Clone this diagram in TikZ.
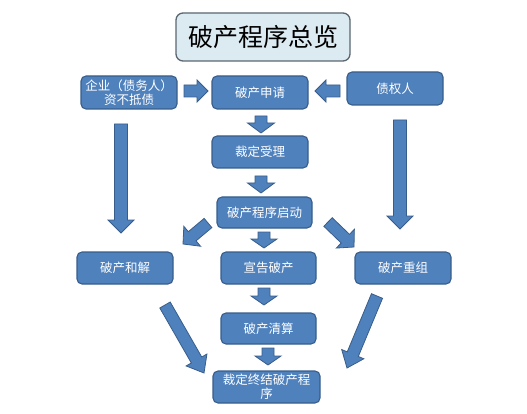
\documentclass[tikz,border=0pt]{standalone}
\usepackage{fontspec}
\newfontfamily\cjk{Noto Sans CJK SC}
\usetikzlibrary{calc}
\definecolor{boxblue}{HTML}{4F81BD}
\definecolor{boxline}{HTML}{385D8A}
\definecolor{titlefill}{HTML}{DCEAF2}
\definecolor{titleline}{HTML}{5A6670}
\tikzset{
  box/.style={draw=boxline, fill=boxblue, line width=1.1pt, rounded corners=5pt,
    text=white, font=\cjk\fontsize{12.5}{14}\selectfont, align=center, inner sep=1pt},
  titlebox/.style={draw=titleline, fill=titlefill, line width=1.3pt, rounded corners=7pt,
    text=black, font=\cjk\fontsize{25}{27}\selectfont, minimum width=174pt, minimum height=48pt},
  blk/.style={draw=boxline, fill=boxblue, line width=0.8pt, line join=miter}
}
% \blkarrow{tail}{tip}{shaft half}{head half}{head length}
\newcommand{\blkarrow}[5]{%
  \coordinate (hb) at ($(#2)!#5!(#1)$);
  \draw[blk] ($(#1)!#3!90:(#2)$) -- ($(hb)!#3!-90:(#1)$) -- ($(hb)!#4!-90:(#1)$) -- (#2)
    -- ($(hb)!#4!90:(#1)$) -- ($(hb)!#3!90:(#1)$) -- ($(#1)!#3!-90:(#2)$) -- cycle;
}
\begin{document}
\begin{tikzpicture}[x=1pt,y=-1pt]
\useasboundingbox (0,0) rectangle (527,414);
\node[titlebox] (title) at (263,37) {破产程序总览};
\node[box, minimum width=96pt, minimum height=33pt] (qiye) at (129,92.5) {企业（债务人）\\资不抵债};
\node[box, minimum width=96pt, minimum height=33pt] (shenqing) at (260,92.5) {破产申请};
\node[box, minimum width=96pt, minimum height=33pt] (zhaiquan) at (395,88.5) {债权人};
\node[box, minimum width=96pt, minimum height=32pt] (shouli) at (260,152) {裁定受理};
\node[box, minimum width=95pt, minimum height=31pt] (qidong) at (264.5,212.5) {破产程序启动};
\node[box, minimum width=96pt, minimum height=32pt] (hejie) at (125,268) {破产和解};
\node[box, minimum width=95pt, minimum height=32pt] (xuangao) at (268.5,268) {宣告破产};
\node[box, minimum width=96pt, minimum height=32pt] (chongzu) at (403,268) {破产重组};
\node[box, minimum width=95pt, minimum height=31pt] (qingsuan) at (268.5,328.5) {破产清算};
\node[box, minimum width=107pt, minimum height=32pt] (zhongjie) at (266.5,387) {裁定终结破产程\\序};

% arrow end coordinates
\coordinate (a1t) at (184,91);  \coordinate (a1p) at (208,91);
\coordinate (a2t) at (340,91);  \coordinate (a2p) at (315,91);
\coordinate (a3t) at (261,116); \coordinate (a3p) at (261,133);
\coordinate (a4t) at (261,176); \coordinate (a4p) at (261,193);
\coordinate (a5t) at (121,124); \coordinate (a5p) at (121,233);
\coordinate (a6t) at (400,120); \coordinate (a6p) at (400,229);
\coordinate (a7t) at (208,223); \coordinate (a7p) at (183,244);
\coordinate (a8t) at (264,232); \coordinate (a8p) at (264,248);
\coordinate (a9t) at (328,222); \coordinate (a9p) at (354,247);
\coordinate (a10t) at (264,288); \coordinate (a10p) at (264,305);
\coordinate (a11t) at (268,348); \coordinate (a11p) at (268,365);
\coordinate (a12t) at (165,305); \coordinate (a12p) at (204,373);
\coordinate (a13t) at (377,296); \coordinate (a13p) at (347,368);

\blkarrow{a1t}{a1p}{6pt}{11pt}{11pt}
\blkarrow{a2t}{a2p}{6pt}{11pt}{11pt}
\blkarrow{a3t}{a3p}{6pt}{13.5pt}{10pt}
\blkarrow{a4t}{a4p}{6pt}{13.5pt}{10pt}
\blkarrow{a5t}{a5p}{6.5pt}{13pt}{13pt}
\blkarrow{a6t}{a6p}{6.5pt}{13pt}{13pt}
\blkarrow{a7t}{a7p}{6pt}{13pt}{12pt}
\blkarrow{a8t}{a8p}{6pt}{13pt}{9pt}
\blkarrow{a9t}{a9p}{6pt}{13pt}{12pt}
\blkarrow{a10t}{a10p}{6pt}{13pt}{9pt}
\blkarrow{a11t}{a11p}{6pt}{13pt}{9pt}
\blkarrow{a12t}{a12p}{6pt}{12pt}{15pt}
\blkarrow{a13t}{a13p}{6pt}{12pt}{15pt}
\end{tikzpicture}
\end{document}
